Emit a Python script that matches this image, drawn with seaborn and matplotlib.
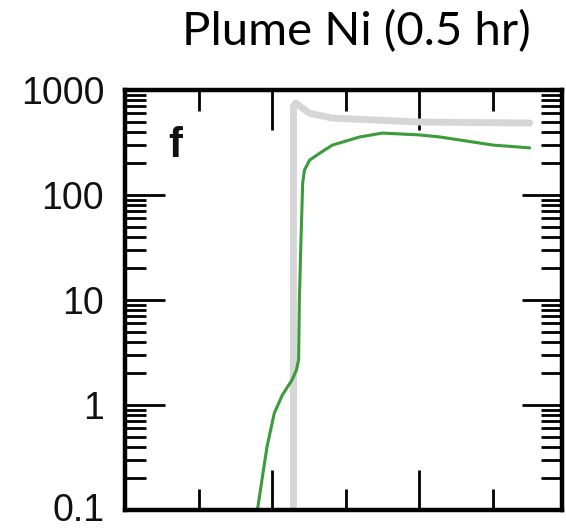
import numpy as np
import pandas as pd
import matplotlib
matplotlib.use("Agg")
import matplotlib.pyplot as plt
import matplotlib.transforms as mtrans
import seaborn as sns
from matplotlib.ticker import FixedLocator, NullFormatter, LogLocator

# ---- data ----
title = "Plume Ni (0.5 hr)"
panel_label = "f"
ytick_vals = [0.1, 1, 10, 100, 1000]
ytick_labels = ["0.1", "1", "10", "100", "1000"]
xtick_major = [2, 4]
xtick_minor = [1, 3, 5]

gray_x = [2.29, 2.29, 2.32, 2.51, 2.82, 4.01, 5.50]
gray_y = [0.1, 700, 750, 600, 540, 495, 485]

green_x = [1.80, 1.86, 1.93, 2.03, 2.14, 2.27, 2.33, 2.36, 2.37, 2.39, 2.415,
           2.44, 2.51, 2.65, 2.82, 3.19, 3.50, 4.01, 4.28, 5.00, 5.50]
green_y = [0.1, 0.19, 0.40, 0.84, 1.25, 1.73, 2.15, 2.7, 10, 33, 130,
           173, 215, 251, 299, 357, 389, 373, 357, 299, 281]

gray_df = pd.DataFrame({"x": gray_x, "y": gray_y})
green_df = pd.DataFrame({"x": green_x, "y": green_y})

sns.set_theme(style="white")
plt.rcParams["font.family"] = ["Liberation Sans", "DejaVu Sans"]

fig = plt.figure(figsize=(5.66, 5.29), dpi=100)
W, H = 566, 529
L, R, T, B = 125, 562, 90, 510
ax = fig.add_axes([L / W, 1 - B / H, (R - L) / W, (B - T) / H])

sns.lineplot(data=gray_df, x="x", y="y", ax=ax, sort=False, estimator=None,
             color="#d6d6d6", linewidth=5, solid_joinstyle="round")
sns.lineplot(data=green_df, x="x", y="y", ax=ax, sort=False, estimator=None,
             color="#3a9c3a", linewidth=2.2)

ax.set_yscale("log")
ax.set_ylim(0.1, 1000)
ax.set_xlim(0, 5.94)
ax.set_xlabel("")
ax.set_ylabel("")

ax.yaxis.set_major_locator(FixedLocator(ytick_vals))
ax.set_yticklabels(ytick_labels)
ax.yaxis.set_minor_locator(LogLocator(base=10, subs=np.arange(2, 10)))
ax.yaxis.set_minor_formatter(NullFormatter())

ax.xaxis.set_major_locator(FixedLocator(xtick_major))
ax.xaxis.set_minor_locator(FixedLocator(xtick_minor))
ax.xaxis.set_major_formatter(NullFormatter())

for s in ax.spines.values():
    s.set_linewidth(3.2)
    s.set_color("black")
    s.set_visible(True)

ax.tick_params(which="major", direction="in", length=29, width=2.0,
               color="black", top=True, right=True, bottom=True, left=True,
               labelsize=27, pad=15, labelcolor="#111111")
ax.tick_params(which="minor", direction="in", length=15, width=2.0,
               color="black", top=True, right=True, bottom=True, left=True)
ax.tick_params(axis="x", labelbottom=False)

# nudge the lowest label slightly up so it stays inside the canvas
for lab in ax.get_yticklabels():
    if lab.get_text() == "0.1":
        lab.set_transform(lab.get_transform() +
                          mtrans.ScaledTranslation(0, 3 / 100, fig.dpi_scale_trans))

fig.text(168 / W, 1 - 157 / H, panel_label, ha="left", va="baseline",
         fontsize=30, fontweight="bold", color="#111111")

fig.text(356 / W, 1 - 45 / H, title, ha="center", va="baseline",
         fontsize=34, family=["Lato", "DejaVu Sans"], color="black")

fig.savefig("out.png", dpi=100)
